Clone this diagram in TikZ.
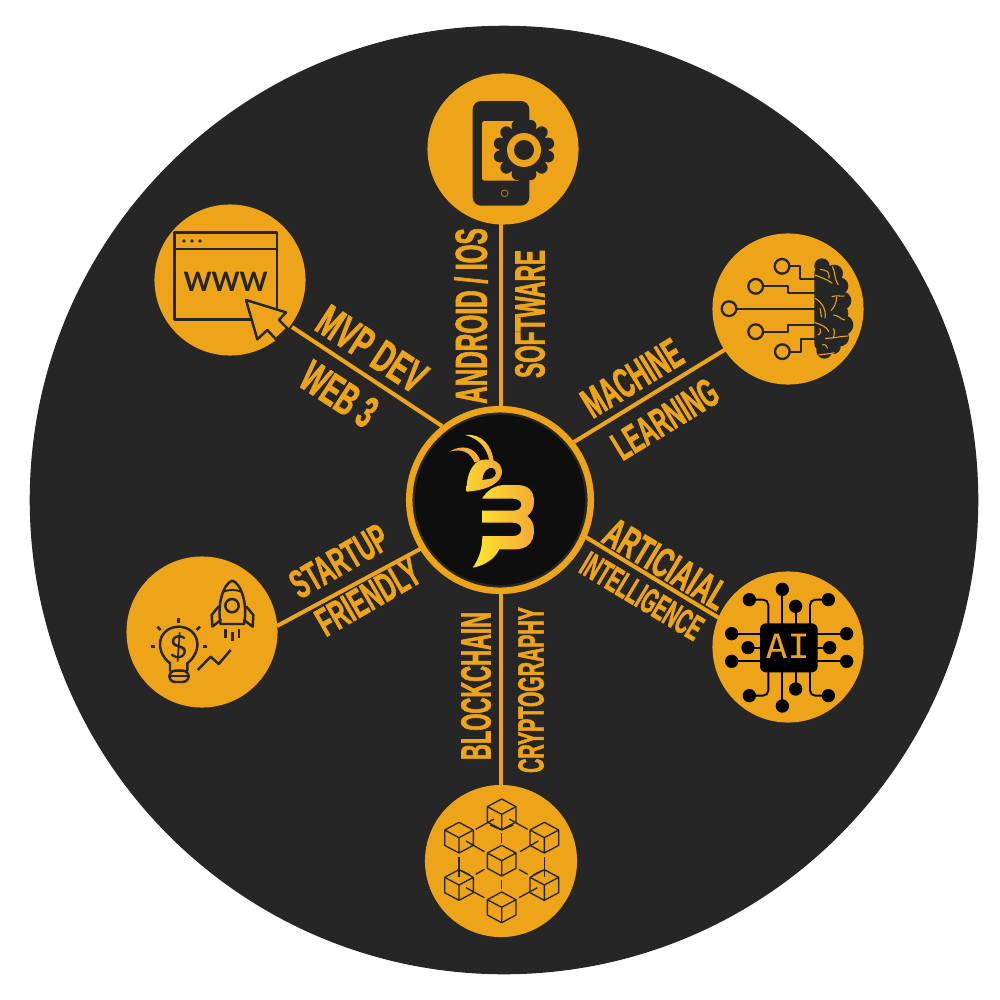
\documentclass[tikz,border=0pt]{standalone}
\usepackage{fontspec}
\usepackage{graphicx}
\usepackage{tikz}
\newfontfamily\labfont[FakeStretch=0.6,FakeBold=1.5]{Liberation Sans Bold}
\newfontfamily\chipfont[FakeStretch=1.1]{DejaVu Sans Mono}
\newfontfamily\webfont{Lato}
\newcommand{\tight}[2]{\scalebox{#1}[1]{#2}}
\definecolor{amber}{HTML}{EDA418}
\definecolor{disccol}{HTML}{262626}
\definecolor{hubcol}{HTML}{0E0E0E}
\definecolor{beeyel}{HTML}{FBE72E}
\definecolor{beeorg}{HTML}{F5A935}
\tikzset{
  satcirc/.style={circle,fill=amber,inner sep=0pt,minimum size=1.51cm},
  lab/.style={font=\labfont\fontsize{#1}{#1}\selectfont,text=amber,inner sep=0pt},
  link/.style={draw=amber,line width=1.15pt},
  ink/.style={draw=disccol,line width=0.7pt,line join=round,line cap=round},
  cubeline/.style={draw=disccol,line width=0.38pt,line join=round},
  trace/.style={draw=black,line width=0.55pt,rounded corners=1.5pt},
  wrinkle/.style={draw=amber,line width=0.3pt}
}
\begin{document}
\begin{tikzpicture}[x=0.01cm,y=-0.01cm]
\fill[white] (0,0) rectangle (1000,1000);
\useasboundingbox (0,0) rectangle (1000,1000);
%picture
\node[circle,fill=disccol,inner sep=0pt,minimum size=9.48cm] (disc) at (504,500) {};
\node[satcirc] (soft) at (503,149) {};
\node[satcirc] (web) at (230,280) {};
\node[satcirc] (brain) at (788,309) {};
\node[satcirc] (chip) at (788,647) {};
\node[satcirc] (start) at (202,632) {};
\node[satcirc,minimum size=1.52cm] (block) at (501,861) {};
\node[circle,draw=amber,line width=1.85pt,fill=disccol,inner sep=0pt,minimum size=1.815cm] (hub) at (500,500) {};
\node[circle,fill=hubcol,inner sep=0pt,minimum size=1.7cm] (hubin) at (500,500) {};
%connectors
\coordinate (softend) at (501,222);
\coordinate (hubtop) at (501,408);
\coordinate (webend) at (292,327);
\coordinate (hubweb) at (442,426);
\coordinate (brainend) at (726,349);
\coordinate (hubbrain) at (574,442);
\coordinate (chipend) at (724,621);
\coordinate (hubchip) at (584,536);
\coordinate (startend) at (277,626);
\coordinate (hubstart) at (422,548);
\coordinate (blockend) at (501,787);
\coordinate (hubblock) at (501,592);
\draw[link] (hubtop)--(softend);
\draw[link] (hubweb)--(webend);
\draw[link] (hubbrain)--(brainend);
\draw[link] (hubchip)--(chipend);
\draw[link] (hubstart)--(startend);
\draw[link] (hubblock)--(blockend);
%labels
\node[lab=12.8,rotate=90] (android) at (471,316) {\tight{.9}{ANDROID / IOS}};
\node[lab=12,rotate=90] (software) at (530,314) {\tight{.89}{SOFTWARE}};
\node[lab=12,rotate=31.5] (machine) at (632,378) {\tight{.93}{MACHINE}};
\node[lab=11.5,rotate=31.5] (learning) at (665,419) {\tight{.92}{LEARNING}};
\node[lab=12,rotate=-31] (articial) at (666,564) {\tight{.95}{ARTICIAIAL}};
\node[lab=10.2,rotate=-31] (intel) at (642,596) {\tight{.86}{INTELLIGENCE}};
\node[lab=12,rotate=90] (chain) at (476,686) {\tight{.87}{BLOCKCHAIN}};
\node[lab=10.4,rotate=90] (crypto) at (531,690) {\tight{.9}{CRYPTOGRAPHY}};
\node[lab=11.5,rotate=30] (startup) at (339,561) {\tight{.94}{STARTUP}};
\node[lab=11.5,rotate=30] (friendly) at (368,597) {\tight{.95}{FRIENDLY}};
\node[lab=12.8,rotate=-33] (mvp) at (372,349) {\tight{.99}{MVP DEV}};
\node[lab=12.8,rotate=-33] (web3) at (339,394) {\tight{.95}{WEB 3}};
%bee
\begin{scope}[shift={(400,400)},scale=1/3]
\shade[left color=beeyel,right color=beeorg] (195,105) .. controls (245,100) and (275,135) .. (281,183)
  -- (268,180) .. controls (258,140) and (235,115) .. (195,105) -- cycle;
\shade[left color=beeorg,right color=beeorg!90!beeyel] (148,155) .. controls (185,132) and (225,140) .. (240,180)
  -- (224,188) .. controls (210,155) and (185,145) .. (148,155) -- cycle;
\shade[left color=beeyel!70!beeorg,right color=beeorg] (200,275) .. controls (198,235) and (210,200) .. (235,183)
  .. controls (265,172) and (305,180) .. (306,215) .. controls (306,245) and (270,270) .. (200,275) -- cycle;
\fill[hubcol] (247,240) .. controls (250,215) and (265,200) .. (278,204) .. controls (292,210) and (290,230) .. (275,235) -- cycle;
\shade[left color=beeyel,right color=beeorg] (246,296) .. controls (262,270) and (285,255) .. (315,255) -- (350,255)
  .. controls (385,255) and (402,272) .. (402,305) .. controls (402,325) and (395,338) .. (382,348)
  .. controls (395,358) and (402,372) .. (402,392) .. controls (402,428) and (380,448) .. (345,448)
  -- (298,448) .. controls (285,475) and (255,497) .. (218,503) .. controls (238,475) and (247,445) .. (247,408)
  -- (340,408) .. controls (372,408) and (372,368) .. (340,368) -- (246,368) -- (246,332) -- (340,332)
  .. controls (372,332) and (372,296) .. (340,296) -- (280,296) .. controls (268,296) and (256,296) .. (246,296) -- cycle;
\end{scope}
%phone
\begin{scope}[shift={(420,70)},scale=1/3]
\fill[disccol,rounded corners=2.4pt] (158,93) rectangle (328,407);
\fill[amber,rounded corners=0.7pt] (186,153) rectangle (300,332);
\draw[amber!60!disccol,line width=0.3pt] (254,370) circle (10);
\fill[disccol] (312,240) circle (74);
\foreach \a in {15,45,...,345}
  \fill[disccol] (312,240)+(\a:75) circle (18);
\fill[amber] (312,240) circle (51);
\fill[disccol] (312,240) circle (30);
\end{scope}
%www
\begin{scope}[shift={(150,200)},scale=1/3]
\draw[ink] (73,98) rectangle (381,358);
\draw[ink] (73,147)--(381,147);
\fill[disccol] (102,123) circle (5.5);
\fill[disccol] (126,123) circle (5.5);
\fill[disccol] (150,123) circle (5.5);
\node[text=disccol,inner sep=0pt,font=\webfont\bfseries\fontsize{7.6}{7.6}\selectfont] (www) at (227,247) {WWW};
\filldraw[fill=amber,ink] (288,300)--(408,337)--(387,360)--(412,385)--(378,418)--(352,390)--(322,418)--cycle;
\end{scope}
%brain
\begin{scope}[shift={(705,230)},scale=1/3]
\fill[disccol,rounded corners=2pt] (328,108) rectangle (400,362);
\fill[disccol] (351,108) circle (23);
\fill[disccol] (388,130) circle (26);
\fill[disccol] (405,168) circle (25);
\fill[disccol] (412,212) circle (27);
\fill[disccol] (415,285) circle (30);
\fill[disccol] (405,322) circle (27);
\fill[disccol] (400,250) circle (30);
\fill[disccol] (358,362) circle (24);
\fill[disccol] (385,350) circle (22);
\draw[ink,line width=0.65pt] (231,109) circle (22);
\draw[ink,line width=0.65pt] (152,169) circle (22);
\draw[ink,line width=0.65pt] (72,236) circle (22);
\draw[ink,line width=0.65pt] (152,305) circle (22);
\draw[ink,line width=0.65pt] (232,365) circle (22);
\draw[ink,line width=0.55pt,line cap=butt] (253,109)--(285,109)--(285,148)--(330,148);
\draw[ink,line width=0.55pt,line cap=butt] (174,169)--(250,169)--(250,190)--(330,190);
\draw[ink,line width=0.55pt,line cap=butt] (94,236)--(330,236);
\draw[ink,line width=0.55pt,line cap=butt] (174,305)--(250,305)--(250,285)--(330,285);
\draw[ink,line width=0.55pt,line cap=butt] (254,365)--(287,365)--(287,327)--(330,327);
\draw[wrinkle] (330,135) .. controls (355,145) and (370,150) .. (382,160);
\draw[wrinkle] (345,118) .. controls (365,120) and (375,125) .. (372,145);
\draw[wrinkle] (382,110) .. controls (392,125) and (385,140) .. (400,165);
\draw[wrinkle] (380,200) .. controls (395,195) and (410,200) .. (418,198);
\draw[wrinkle] (395,200) .. controls (395,220) and (385,235) .. (378,242);
\draw[wrinkle] (330,205) .. controls (350,215) and (365,240) .. (360,265);
\draw[wrinkle] (345,235) .. controls (350,245) and (345,255) .. (350,262);
\draw[wrinkle] (385,255) .. controls (400,255) and (410,270) .. (420,270);
\draw[wrinkle] (330,278) .. controls (350,285) and (365,290) .. (372,305);
\draw[wrinkle] (345,295) .. controls (345,305) and (350,310) .. (338,315);
\draw[wrinkle] (360,325) .. controls (385,325) and (395,320) .. (430,318);
\draw[wrinkle] (385,295) .. controls (392,305) and (385,315) .. (385,325);
\draw[wrinkle] (352,345) .. controls (362,340) and (365,350) .. (368,355);
\draw[wrinkle] (340,375) .. controls (360,372) and (375,372) .. (388,368);
\end{scope}
%chip
\begin{scope}[shift={(705,565)},scale=1/3]
\draw[trace] (232,73)--(232,180);
\draw[trace] (272,124)--(272,180);
\draw[trace] (133,104)--(190,104)--(190,180);
\draw[trace] (370,104)--(315,104)--(315,180);
\draw[trace] (80,206)--(170,206);
\draw[trace] (129,248)--(170,248);
\draw[trace] (80,289)--(170,289);
\draw[trace] (425,206)--(335,206);
\draw[trace] (374,248)--(335,248);
\draw[trace] (425,289)--(335,289);
\draw[trace] (232,423)--(232,318);
\draw[trace] (272,372)--(272,318);
\draw[trace] (133,392)--(190,392)--(190,318);
\draw[trace] (370,392)--(315,392)--(315,318);
\foreach \p in {(232,73),(272,124),(133,104),(370,104),(80,206),(129,248),(80,289),(425,206),(374,248),(425,289),(232,423),(272,372),(133,392),(370,392)}
  \fill[black] \p circle (20);
\fill[black,rounded corners=1.7pt] (165,175) rectangle (338,322);
\node[text=amber,inner sep=0pt,font=\chipfont\fontsize{9.5}{9.5}\selectfont] (ai) at (248,243) {AI};
\end{scope}
%startup
\begin{scope}[shift={(120,550)},scale=1/3]
\draw[ink] (150,362) -- (150,340) .. controls (100,300) and (115,232) .. (176,230) .. controls (237,232) and (252,300) .. (202,340) -- (202,362);
\draw[ink,rounded corners=1.7pt] (148,362) -- (148,396) -- (206,396) -- (206,362) -- cycle;
\draw[ink,line width=0.5pt] (148,378)--(206,378);
\draw[ink,line cap=butt] (176,205)--(176,218);
\draw[ink,line cap=butt] (112,230)--(122,240);
\draw[ink,line cap=butt] (240,230)--(230,240);
\draw[ink,line cap=butt] (92,289)--(105,289);
\draw[ink,line cap=butt] (248,289)--(261,289);
\node[text=disccol,inner sep=0pt,font=\webfont\fontsize{9}{9}\selectfont] (dollar) at (176,293) {\$};
\draw[ink,line cap=butt] (233,360)--(272,320)--(296,342)--(332,300);
\draw[ink] (337,92) .. controls (310,100) and (290,165) .. (302,222) -- (372,222) .. controls (384,165) and (364,100) .. (337,92) -- cycle;
\draw[ink,line width=0.55pt] (310,125) .. controls (328,118) and (346,118) .. (364,125);
\draw[ink] (336,167) circle (20);
\draw[ink] (295,170)--(275,195)--(277,230)--(302,210);
\draw[ink] (379,170)--(400,195)--(398,230)--(372,210);
\draw[ink,line cap=butt] (317,237)--(317,263);
\draw[ink,line cap=butt] (337,245)--(337,272);
\draw[ink,line cap=butt] (357,237)--(357,263);
\end{scope}
%blocks
\begin{scope}[shift={(420,780)},scale=1/3]
\foreach \x/\y in {245/103,117/173,373/173,245/242,117/315,373/315,245/382}
  \draw[cubeline] (\x,\y-46)--(\x+43,\y-23)--(\x+43,\y+23)--(\x,\y+46)--(\x-43,\y+23)--(\x-43,\y-23)--cycle
    (\x-43,\y-23)--(\x,\y)--(\x+43,\y-23) (\x,\y)--(\x,\y+46);
\foreach \a/\b/\c/\d in {167/148/222/117,268/117/323/148,245/160/245/188,138/183/193/215,300/215/355/183,117/230/117/292,373/230/373/292,167/283/193/268,297/268/323/283,245/300/245/328,138/323/193/353,297/353/352/323,210/135/245/150,280/135/245/150,125/272/150/285,365/272/340/285}
  \draw[cubeline] (\a,\b)--(\c,\d);
\end{scope}
\end{tikzpicture}
\end{document}
